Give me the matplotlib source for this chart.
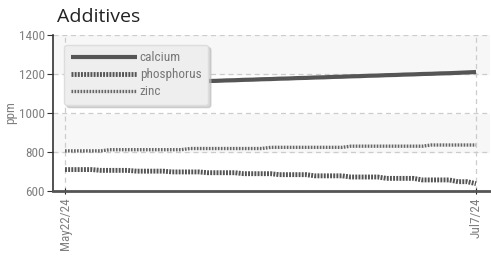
import matplotlib.pyplot as plt
import matplotlib.dates as mdates
import datetime as dt

# data (daily values May 22 - Jul 7 2024)
dates = [dt.date(2024, 5, 22) + dt.timedelta(days=i) for i in range(47)]
calcium = [1140, 1141, 1143, 1144, 1146, 1147, 1149, 1150, 1152, 1153,
           1155, 1156, 1158, 1159, 1161, 1162, 1164, 1165, 1167, 1168,
           1170, 1171, 1173, 1174, 1176, 1177, 1179, 1180, 1182, 1183,
           1185, 1186, 1188, 1189, 1191, 1192, 1194, 1195, 1197, 1198,
           1200, 1201, 1203, 1204, 1206, 1208, 1210]
zinc = [806] * 5 + [812] * 9 + [818] * 9 + [824] * 9 + [830] * 9 + [836] * 6
phosphorus = [710] * 4 + [706] * 4 + [702] * 4 + [698] * 4 + [694] * 4 + \
             [689] * 4 + [684] * 4 + [678] * 4 + [672] * 4 + [665] * 4 + \
             [657] * 4 + [648] * 2 + [638] * 1
ticks = [dt.date(2024, 5, 22), dt.date(2024, 7, 7)]
tick_labels = ["May22/24", "Jul7/24"]

plt.rcParams['font.family'] = ['Roboto Condensed', 'DejaVu Sans']

fig = plt.figure(figsize=(4.91, 2.61), dpi=100)
ax = fig.add_axes([0.108, 0.268, 0.89, 0.598])

# alternating bands
for lo, hi, c in [(600, 800, 'white'), (800, 1000, '#f7f7f7'),
                  (1000, 1200, 'white'), (1200, 1400, '#f7f7f7')]:
    ax.axhspan(lo, hi, color=c, zorder=0)

ax.plot(dates, calcium, color='#555555', lw=3, solid_capstyle='butt', label='calcium', zorder=3)
ax.plot(dates, phosphorus, color='#555555', lw=3.5, dashes=(0.4, 0.25), label='phosphorus', zorder=3)
ax.plot(dates, zinc, color='#666666', lw=2.4, dashes=(0.5, 0.4), label='zinc', zorder=3)

ax.set_ylim(600, 1400)
ax.set_yticks([600, 800, 1000, 1200, 1400])
ax.set_xlim(mdates.date2num(dates[0]) - 1.34, mdates.date2num(dates[-1]) + 1.57)
ax.set_xticks(ticks)
ax.set_xticklabels(tick_labels, rotation=90)

ax.grid(True, color='#cccccc', linestyle=(0, (4, 3)), lw=0.9)
ax.set_axisbelow(True)
for s in ['top', 'right']:
    ax.spines[s].set_visible(False)
ax.spines['left'].set_color('#333333')
ax.spines['left'].set_linewidth(1.2)
ax.spines['bottom'].set_color('#555555')
ax.spines['bottom'].set_linewidth(2)

ax.tick_params(axis='y', colors='#333333', labelcolor='#808080', labelsize=9.5, length=4, direction='out', pad=2)
ax.tick_params(axis='x', colors='#222222', labelcolor='#808080', labelsize=9.5, length=5, direction='inout', pad=2)
ax.set_ylabel("ppm", color='#808080', fontsize=9.5, labelpad=1)
ax.set_title("Additives", loc='left', fontsize=14, color='#222222', x=0.01, pad=9,
             family=['Open Sans', 'DejaVu Sans'])

leg = ax.legend(loc='upper left', bbox_to_anchor=(0.01, 0.98), fontsize=9.5, handlelength=5.0,
                labelspacing=0.3, handletextpad=0.25, fancybox=True,
                shadow={'color': '#bbbbbb', 'alpha': 0.6},
                framealpha=1, facecolor='#eeeeee', edgecolor='#dddddd', borderpad=0.5)
for t in leg.get_texts():
    t.set_color('#777777')

fig.savefig("out.png", dpi=100)
